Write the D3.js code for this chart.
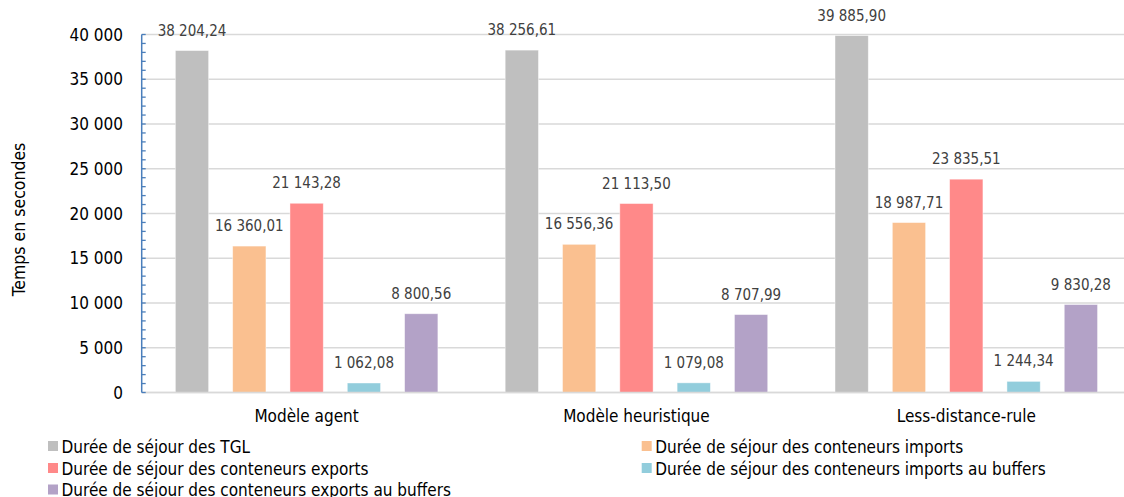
<!DOCTYPE html>
<html>
<head>
<meta charset="utf-8">
<script src="https://cdn.jsdelivr.net/npm/d3@7"></script>
<style>
  html, body { margin: 0; padding: 0; background: #ffffff; }
  svg { display: block; font-family: "DejaVu Sans Condensed", "DejaVu Sans", sans-serif; }
</style>
</head>
<body>
<svg id="chart" width="1124" height="497"></svg>
<script>
// Scenario names along the x axis
const categories = ["Modèle agent", "Modèle heuristique", "Less-distance-rule"];

// Series names (legend order)
const seriesNames = [
  "Durée de séjour des TGL",
  "Durée de séjour des conteneurs imports",
  "Durée de séjour des conteneurs exports",
  "Durée de séjour des conteneurs imports au buffers",
  "Durée de séjour des conteneurs exports au buffers"
];

// Durations in seconds, one array per series (same order as categories)
const tglValues        = [38204.24, 38256.61, 39885.90];
const importValues     = [16360.01, 16556.36, 18987.71];
const exportValues     = [21143.28, 21113.50, 23835.51];
const importBufValues  = [1062.08, 1079.08, 1244.34];
const exportBufValues  = [8800.56, 8707.99, 9830.28];

const seriesColors = ["#bfbfbf", "#fac090", "#ff8989", "#92cddc", "#b3a2c7"];

// Y axis ticks
const yTicks = [0, 5000, 10000, 15000, 20000, 25000, 30000, 35000, 40000];
const yMinorTicks = d3.range(0, 40001, 1000);

const seriesValues = [tglValues, importValues, exportValues, importBufValues, exportBufValues];

const rows = categories.map((c, i) => ({
  category: c,
  values: seriesNames.map((s, j) => ({ series: s, idx: j, value: seriesValues[j][i] }))
}));

const fr = d3.formatLocale({ decimal: ",", thousands: "\u00a0", grouping: [3], currency: ["", " €"] });
const fmtTick = fr.format(",.0f");
const fmtVal = fr.format(",.2f");

const svg = d3.select("#chart");
const plot = { left: 141.7, right: 1131.2, top: 34.5, bottom: 392.5 };

const x0 = d3.scaleBand().domain(categories).range([plot.left, plot.right]).paddingInner(0).paddingOuter(0);
const x1 = d3.scaleBand().domain(d3.range(seriesNames.length)).range([0, x0.bandwidth()])
  .paddingInner(0.419).paddingOuter(0.587);
const y = d3.scaleLinear().domain([0, 40000]).range([plot.bottom, plot.top]);

// Horizontal gridlines
svg.append("g")
  .selectAll("line")
  .data(yTicks)
  .join("line")
  .attr("x1", plot.left)
  .attr("x2", 1124)
  .attr("y1", d => y(d))
  .attr("y2", d => y(d))
  .attr("stroke", "#d9d9d9")
  .attr("stroke-width", 1.5);

// Bars
const groups = svg.append("g")
  .selectAll("g")
  .data(rows)
  .join("g")
  .attr("transform", d => `translate(${x0(d.category)},0)`);

groups.selectAll("rect")
  .data(d => d.values)
  .join("rect")
  .attr("x", d => x1(d.idx))
  .attr("width", x1.bandwidth())
  .attr("y", d => y(d.value))
  .attr("height", d => y(0) - y(d.value))
  .attr("fill", d => seriesColors[d.idx])
  .attr("stroke", "rgba(255,255,255,0.55)")
  .attr("stroke-width", 0.8);

// Value labels above bars
groups.selectAll("text")
  .data(d => d.values)
  .join("text")
  .attr("x", d => x1(d.idx) + x1.bandwidth() / 2)
  .attr("y", d => y(d.value) - 15)
  .attr("text-anchor", "middle")
  .attr("font-size", 15)
  .attr("fill", "#404040")
  .text(d => fmtVal(d.value));

// Baseline
svg.append("line")
  .attr("x1", plot.left).attr("x2", 1124)
  .attr("y1", y(0)).attr("y2", y(0))
  .attr("stroke", "#d9d9d9").attr("stroke-width", 1.5);

// Y axis: blue line with minor ticks pointing inward
const yAxis = svg.append("g");
yAxis.selectAll("line.minor")
  .data(yMinorTicks)
  .join("line")
  .attr("class", "minor")
  .attr("x1", plot.left)
  .attr("x2", plot.left + 4)
  .attr("y1", d => y(d))
  .attr("y2", d => y(d))
  .attr("stroke", "#4a7ebb")
  .attr("stroke-width", 1.3);
yAxis.append("line")
  .attr("x1", plot.left).attr("x2", plot.left)
  .attr("y1", y(40000)).attr("y2", y(0))
  .attr("stroke", "#4a7ebb").attr("stroke-width", 1.5);
yAxis.selectAll("text")
  .data(yTicks)
  .join("text")
  .attr("x", 123)
  .attr("y", d => y(d))
  .attr("dy", "0.36em")
  .attr("text-anchor", "end")
  .attr("font-size", 17)
  .attr("fill", "#000000")
  .text(d => fmtTick(d));

// Y axis title
svg.append("text")
  .attr("transform", `translate(25,${(plot.top + plot.bottom) / 2 + 6}) rotate(-90)`)
  .attr("text-anchor", "middle")
  .attr("font-size", 17.5)
  .attr("fill", "#000000")
  .text("Temps en secondes");

// Category labels
svg.append("g")
  .selectAll("text")
  .data(categories)
  .join("text")
  .attr("x", d => x0(d) + x0.bandwidth() / 2)
  .attr("y", 422)
  .attr("text-anchor", "middle")
  .attr("font-size", 17)
  .attr("fill", "#000000")
  .text(d => d);

// Legend in two columns
const legendCols = [48, 641.7];
const legendRows = [452.5, 474.5, 496];
const legend = svg.append("g")
  .selectAll("g")
  .data(seriesNames)
  .join("g")
  .attr("transform", (d, i) => `translate(${legendCols[i % 2]},${legendRows[Math.floor(i / 2)]})`);
legend.append("rect")
  .attr("x", 0).attr("y", -11.5)
  .attr("width", 10).attr("height", 10)
  .attr("fill", (d, i) => seriesColors[i]);
legend.append("text")
  .attr("x", 13.5)
  .attr("y", 0)
  .attr("font-size", 17)
  .attr("fill", "#000000")
  .text(d => d);
</script>
</body>
</html>
